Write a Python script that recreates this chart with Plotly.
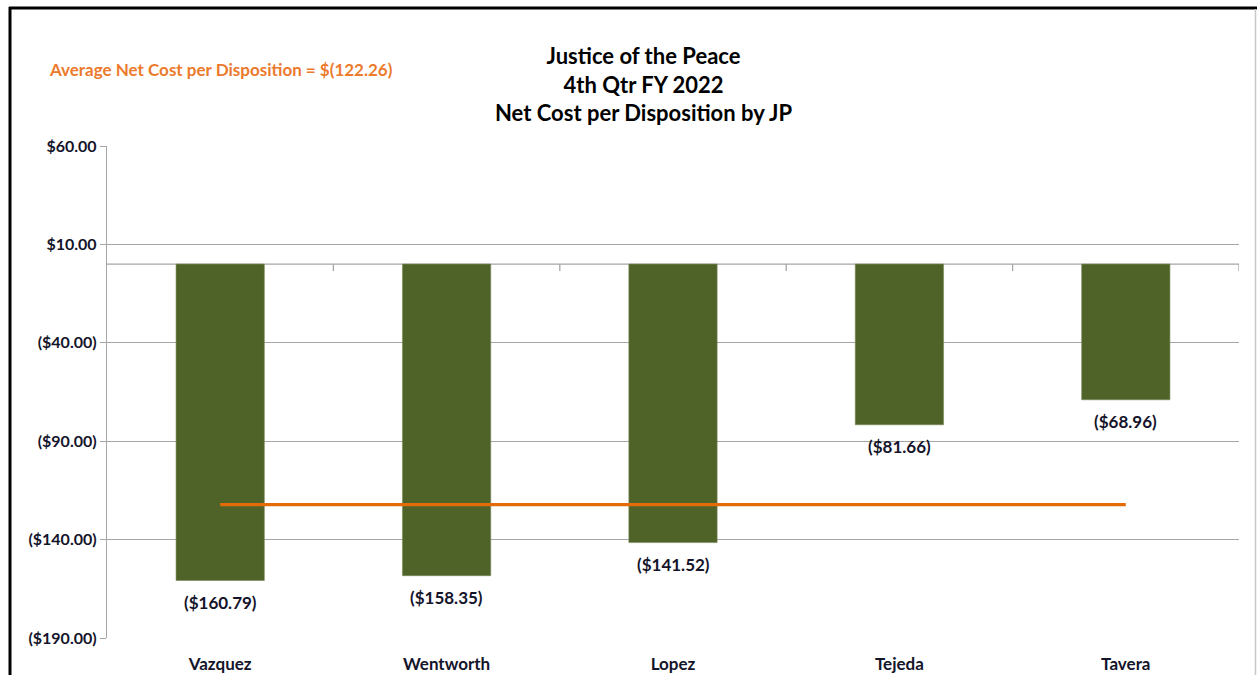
import plotly.graph_objects as go

judges = ["Vazquez", "Wentworth", "Lopez", "Tejeda", "Tavera"]
net_cost = [-160.79, -158.35, -141.52, -81.66, -68.96]
average_cost = -122.26
y_ticks = [60, 10, -40, -90, -140, -190]
y_tick_labels = ["$60.00", "$10.00", "($40.00)", "($90.00)", "($140.00)", "($190.00)"]
title_lines = ["Justice of the Peace", "4th Qtr FY 2022", "Net Cost per Disposition by JP"]

FONT = "Lato, Carlito, Calibri, sans-serif"
TXT = "#14142a"
GRID = "#a6a6a6"
W, H = 1257, 675
ML, MR, MT, MB = 107, 18, 146, 37
PW, PH = W - ML - MR, H - MT - MB

def px_x(px):
    return (px - ML) / PW

def px_y(py):
    return (H - MB - py) / PH

def money(v):
    return f"(${abs(v):.2f})" if v < 0 else f"${v:.2f}"

xs = list(range(len(judges)))

fig = go.Figure()
fig.add_trace(go.Bar(
    x=xs, y=net_cost, width=0.39,
    marker=dict(color="#4f6228", line=dict(color="#7a8a5a", width=0.6)),
    hoverinfo="skip", showlegend=False,
))
fig.add_trace(go.Scatter(
    x=[xs[0], xs[-1]], y=[average_cost, average_cost], mode="lines",
    line=dict(color="#e36c09", width=3.2), hoverinfo="skip", showlegend=False,
))

annotations = []
for x, v in zip(xs, net_cost):
    annotations.append(dict(
        x=x, y=v, xref="x", yref="y", text=money(v), showarrow=False,
        yanchor="top", yshift=-9,
        font=dict(family=FONT, size=17, color=TXT, weight="bold"),
    ))
annotations.append(dict(
    x=px_x(643), y=px_y(40), xref="paper", yref="paper",
    text="<br>".join(title_lines), showarrow=False, xanchor="center", yanchor="top",
    align="center", font=dict(family=FONT, size=22, color="#000000", weight="bold"),
))
annotations.append(dict(
    x=px_x(47), y=px_y(70), xref="paper", yref="paper",
    text=f"Average Net Cost per Disposition = $({abs(average_cost):.2f})",
    showarrow=False, xanchor="left", yanchor="middle",
    font=dict(family=FONT, size=17, color="#ec7a2c", weight="bold"),
))

shapes = [
    dict(type="line", xref="x", yref="y", x0=-0.5, x1=len(judges) - 0.5, y0=0, y1=0,
         line=dict(color=GRID, width=1.3), layer="below"),
]
for k in range(len(judges)):
    shapes.append(dict(type="line", xref="x", yref="y", xsizemode="scaled",
                       ysizemode="pixel", yanchor=0, x0=k + 0.5, x1=k + 0.5, y0=0, y1=-7,
                       line=dict(color=GRID, width=1.3)))
shapes.append(dict(type="line", xref="paper", yref="paper",
                   x0=px_x(9), x1=px_x(1257), y0=px_y(8), y1=px_y(8),
                   line=dict(color="#000000", width=3)))
shapes.append(dict(type="line", xref="paper", yref="paper",
                   x0=px_x(10), x1=px_x(10), y0=px_y(7), y1=px_y(680),
                   line=dict(color="#000000", width=3)))
shapes.append(dict(type="line", xref="paper", yref="paper",
                   x0=px_x(1255.5), x1=px_x(1255.5), y0=px_y(9), y1=px_y(680),
                   line=dict(color="#c8c8c8", width=1.5)))

fig.update_layout(
    width=W, height=H,
    margin=dict(l=ML, r=MR, t=MT, b=MB, autoexpand=False),
    paper_bgcolor="white", plot_bgcolor="white",
    showlegend=False,
    annotations=annotations, shapes=shapes,
    xaxis=dict(
        range=[-0.5, len(judges) - 0.5], tickvals=xs, ticktext=judges,
        showgrid=False, zeroline=False, showline=False, automargin=False,
        ticks="outside", ticklen=11, tickcolor="rgba(0,0,0,0)",
        tickfont=dict(family=FONT, size=17, color=TXT, weight="bold"),
    ),
    yaxis=dict(
        range=[-190, 60], tickvals=y_ticks, ticktext=y_tick_labels, automargin=False,
        showgrid=True, gridcolor=GRID, gridwidth=1.3, zeroline=False,
        showline=True, linecolor=GRID, linewidth=1.3,
        ticks="outside", ticklen=6, tickcolor=GRID, tickwidth=1.3,
        tickfont=dict(family=FONT, size=16, color=TXT, weight="bold"),
    ),
)

fig.write_html("out.html", config={"displayModeBar": False},
               post_script="document.body.style.margin='0px';")
